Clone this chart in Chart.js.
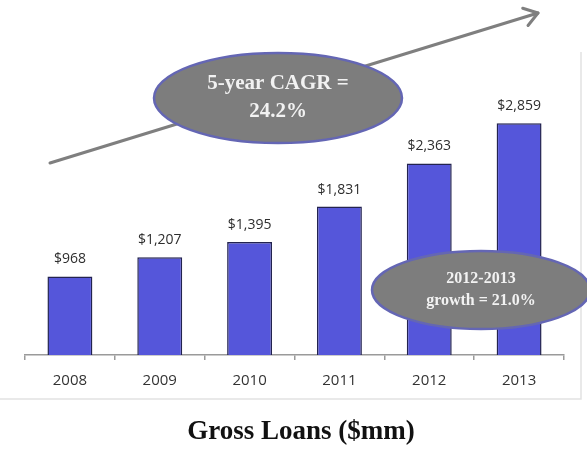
<!DOCTYPE html>
<html>
<head>
<meta charset="utf-8">
<script src="https://cdn.jsdelivr.net/npm/chart.js@4.4.1/dist/chart.umd.min.js"></script>
<style>
  html, body { margin: 0; padding: 0; background: #fff; }
  #wrap { position: relative; width: 587px; height: 455px; }
</style>
</head>
<body>
<div id="wrap"><canvas id="chart-loans" width="587" height="455"></canvas></div>
<script>
// Gross loans by year ($mm)
const years = ['2008', '2009', '2010', '2011', '2012', '2013'];
const grossLoans = [968, 1207, 1395, 1831, 2363, 2859];

const chartTitle = 'Gross Loans ($mm)';
const cagrText = ['5-year CAGR =', '24.2%'];
const growthText = ['2012-2013', 'growth = 21.0%'];

const BAR_FILL = '#5556da';
const BAR_EDGE = '#23234f';
const BUBBLE_FILL = '#7d7d7d';
const BUBBLE_EDGE = '#6466b4';

function fmtMoney(v) {
    return '$' + v.toLocaleString('en-US');
}

function drawBubble(ctx, cx, cy, rx, ry, lines, fontSize, lineGap) {
    ctx.save();
    ctx.beginPath();
    ctx.ellipse(cx, cy, rx, ry, 0, 0, Math.PI * 2);
    ctx.fillStyle = BUBBLE_FILL;
    ctx.fill();
    ctx.lineWidth = 2.5;
    ctx.strokeStyle = BUBBLE_EDGE;
    ctx.stroke();
    ctx.fillStyle = '#f2f2f2';
    ctx.font = `bold ${fontSize}px "Liberation Serif", "DejaVu Serif", serif`;
    ctx.textAlign = 'center';
    ctx.textBaseline = 'middle';
    const startY = cy - (lines.length - 1) * lineGap / 2;
    lines.forEach((t, i) => ctx.fillText(t, cx, startY + i * lineGap));
    ctx.restore();
}

const overlayPlugin = {
    id: 'overlay',
    beforeDraw(chart) {
        const ctx = chart.ctx;
        // light frame on the right and bottom
        ctx.save();
        ctx.strokeStyle = '#e2e2e2';
        ctx.lineWidth = 1.5;
        ctx.beginPath();
        ctx.moveTo(0, 399);
        ctx.lineTo(581, 399);
        ctx.lineTo(581, 52);
        ctx.stroke();
        ctx.restore();
    },
    afterDatasetsDraw(chart) {
        const ctx = chart.ctx;
        const meta = chart.getDatasetMeta(0);

        // value labels above each bar
        ctx.save();
        ctx.fillStyle = '#2e2e2e';
        ctx.font = '14px "Open Sans", sans-serif';
        ctx.textAlign = 'center';
        ctx.textBaseline = 'middle';
        meta.data.forEach((bar, i) => {
            ctx.fillText(fmtMoney(grossLoans[i]), bar.x, bar.y - 17);
        });
        ctx.restore();

        // growth trend arrow
        const x0 = 50, y0 = 163, x1 = 538, y1 = 13;
        const ang = Math.atan2(y1 - y0, x1 - x0);
        ctx.save();
        ctx.strokeStyle = '#7f7f7f';
        ctx.lineWidth = 3;
        ctx.lineCap = 'round';
        ctx.lineJoin = 'round';
        ctx.beginPath();
        ctx.moveTo(x0, y0);
        ctx.lineTo(x1, y1);
        ctx.stroke();
        const head = 16, spread = 0.6;
        ctx.beginPath();
        ctx.moveTo(x1 - head * Math.cos(ang - spread), y1 - head * Math.sin(ang - spread));
        ctx.lineTo(x1, y1);
        ctx.lineTo(x1 - head * Math.cos(ang + spread), y1 - head * Math.sin(ang + spread));
        ctx.stroke();
        ctx.restore();

        drawBubble(ctx, 278, 98, 124, 45, cagrText, 21, 28);
        drawBubble(ctx, 481, 290, 109, 39, growthText, 16, 22);

        // caption under the chart
        ctx.save();
        ctx.fillStyle = '#111';
        ctx.font = 'bold 27px "Liberation Serif", "DejaVu Serif", serif';
        ctx.textAlign = 'center';
        ctx.textBaseline = 'middle';
        ctx.fillText(chartTitle, 301, 432);
        ctx.restore();
    }
};

new Chart(document.getElementById('chart-loans'), {
    type: 'bar',
    data: {
        labels: years,
        datasets: [{
            data: grossLoans,
            backgroundColor: BAR_FILL,
            borderColor: BAR_EDGE,
            borderWidth: 1.5,
            categoryPercentage: 1,
            barPercentage: 0.5
        }]
    },
    options: {
        responsive: false,
        animation: false,
        devicePixelRatio: 1,
        layout: { padding: { top: 10, left: 25, right: 23, bottom: 53 } },
        plugins: {
            legend: { display: false },
            tooltip: { enabled: false }
        },
        scales: {
            x: {
                offset: true,
                grid: {
                    offset: true,
                    drawOnChartArea: false,
                    drawTicks: true,
                    tickLength: 5,
                    color: '#9a9a9a',
                    lineWidth: 1.5
                },
                border: { display: true, color: '#9a9a9a', width: 1.5 },
                ticks: {
                    color: '#333',
                    font: { family: '"Open Sans", sans-serif', size: 15 },
                    padding: 12,
                    autoSkip: false,
                    maxRotation: 0
                }
            },
            y: {
                display: false,
                min: 0,
                max: 4255
            }
        }
    },
    plugins: [overlayPlugin]
});
</script>
</body>
</html>
